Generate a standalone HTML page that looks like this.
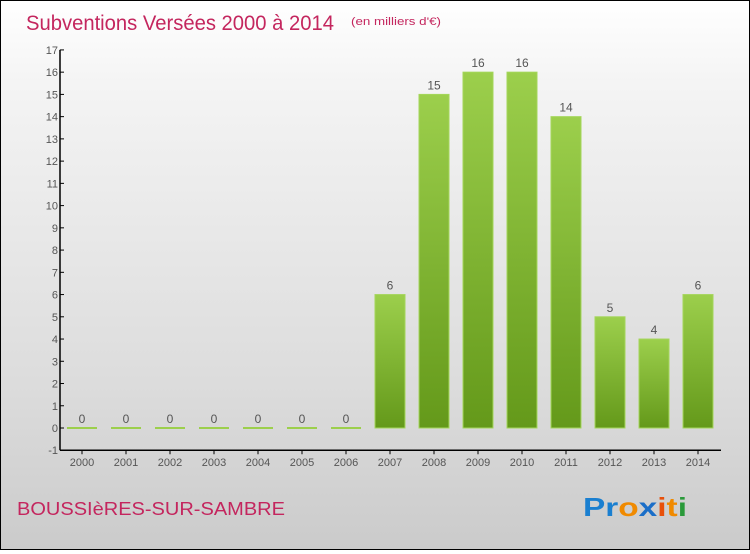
<!DOCTYPE html>
<html><head><meta charset="utf-8"><style>
html,body{margin:0;padding:0}
body{width:750px;height:550px;overflow:hidden;font-family:"Liberation Sans","DejaVu Sans",sans-serif}
#wrap{position:relative;width:748px;height:548px;border:1px solid #000;background:linear-gradient(#fff,#f4f4f4 15%,#dcdcdc 70%,#cbcbcb)}
</style></head><body>
<div id="wrap">
<svg id="chart" width="748" height="548" xmlns="http://www.w3.org/2000/svg">
<defs><linearGradient id="g" x1="0" y1="0" x2="0" y2="1"><stop offset="0" stop-color="#9ccf4c"/><stop offset="1" stop-color="#64991a"/></linearGradient></defs>
<text x="25" y="29" font-size="21" fill="#c4265e" textLength="308" lengthAdjust="spacingAndGlyphs">Subventions Versées 2000 à 2014</text>
<text x="350" y="24" font-size="11" fill="#c4265e" textLength="90" lengthAdjust="spacingAndGlyphs">(en milliers d'€)</text>
<text x="16" y="514" font-size="18" fill="#c4265e" textLength="268" lengthAdjust="spacingAndGlyphs">BOUSSIèRES-SUR-SAMBRE</text>
<text x="582" y="515" font-size="26" font-weight="bold" textLength="104" lengthAdjust="spacingAndGlyphs"><tspan fill="#1a7fd0">Pr</tspan><tspan fill="#f08a00">o</tspan><tspan fill="#1a6ec8">x</tspan><tspan fill="#e8500a">i</tspan><tspan fill="#f08a00">t</tspan><tspan fill="#2a9a3a">i</tspan></text>
<g id="axes"></g><g id="bars"></g>
</svg></div>
<script>
const years=["2000","2001","2002","2003","2004","2005","2006","2007","2008","2009","2010","2011","2012","2013","2014"];
const values=[0,0,0,0,0,0,0,6,15,16,16,14,5,4,6];
const yTicks=[-1,0,1,2,3,4,5,6,7,8,9,10,11,12,13,14,15,16,17];
const NS="http://www.w3.org/2000/svg";
const y=v=>427+( -v)*22.24;
const x=i=>81+i*44;
const axes=document.getElementById('axes'),bars=document.getElementById('bars');
function mk(tag,at,p){const e=document.createElementNS(NS,tag);for(const k in at)e.setAttribute(k,at[k]);p.appendChild(e);return e;}
let a=mk('line',{x1:59,y1:y(17),x2:59,y2:y(-1),stroke:'#000','stroke-width':1.5},axes);


let b=mk('line',{x1:59,y1:y(-1),x2:720,y2:y(-1),stroke:'#000','stroke-width':1.5},axes);


yTicks.forEach(t=>{
 mk('line',{x1:59,x2:63,y1:y(t),y2:y(t),stroke:'#000'},axes);
 const tx=mk('text',{x:57,y:y(t)+4,'font-size':11,fill:'#555','text-anchor':'end'},axes);tx.textContent=t;
 
 
});
years.forEach((yr,i)=>{
 mk('line',{x1:x(i),x2:x(i),y1:y(-1),y2:y(-1)+4,stroke:'#000'},axes);
 const tx=mk('text',{x:x(i),y:y(-1)+16,'font-size':11,fill:'#555','text-anchor':'middle'},axes);tx.textContent=yr;
 
 
 const v=values[i];
 const top=y(v),h=Math.max(2,y(0)-top);
 const r=mk('rect',{x:x(i)-15,y:v>0?top:y(0)-1,width:30,height:h,fill:'url(#g)',stroke:'#a4d65a','stroke-width':v>0?1:0},bars);
 if(v===0)r.setAttribute('fill','#9ccf4c');
 
 
 const l=mk('text',{x:x(i),y:(v>0?top:y(0))-5,'font-size':12,fill:'#555','text-anchor':'middle'},bars);l.textContent=v;
 
 
});
</script>
</body></html>
